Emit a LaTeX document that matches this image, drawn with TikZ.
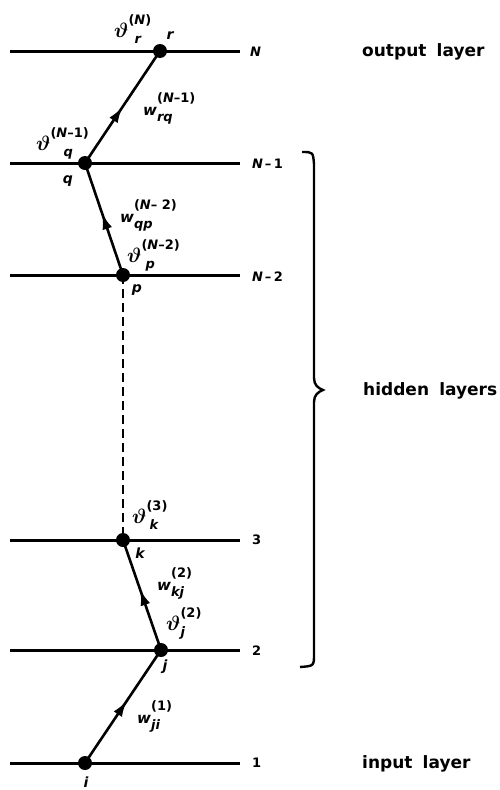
\documentclass[tikz,border=0pt]{standalone}
\usepackage{fontspec}
\usepackage{bm}
\setmainfont{DejaVu Sans}
\usetikzlibrary{decorations.markings,arrows.meta}
\newcommand\myscr{\fontsize{13}{13}\selectfont}
\newcommand\mytheta{{\fontsize{20}{20}\selectfont$\bm{\vartheta}$}}
% #1 symbol, #2 superscript, #3 subscript (may start with a shift)
\newcommand\mylbl[3]{{\itshape #1}\rlap{\raisebox{13pt}{\myscr #2}}\raisebox{-6pt}{\myscr\itshape #3}}
\begin{document}
\begin{tikzpicture}[x=1pt,y=-1pt,
  layerline/.style={line width=3pt},
  conn/.style={line width=2.6pt, postaction={decorate},
    decoration={markings, mark=at position #1 with {\arrow{Latex[length=16pt,width=10pt]}}}},
  conn/.default=0.55,
  dot/.style={circle, fill=black, inner sep=0pt, minimum size=14pt},
  sym/.style={anchor=base west, inner sep=0pt, font=\fontsize{15}{17}\selectfont\bfseries},
  idx/.style={inner sep=0pt, font=\fontsize{14}{16}\selectfont\bfseries\itshape},
  num/.style={anchor=west, inner sep=0pt, font=\fontsize{13}{15}\selectfont\bfseries},
  layername/.style={anchor=west, inner sep=0pt, font=\fontsize{17}{19}\selectfont\bfseries},
  bracepath/.style={line width=2.4pt}]
\useasboundingbox (0,0) rectangle (499,790);
% layer lines
\foreach \n/\y in {N/51, Nm1/163, Nm2/275, L3/540, L2/650, L1/763}{
  \coordinate (left\n) at (10,\y);
  \coordinate (right\n) at (240,\y);
  \draw[layerline] (left\n) -- (right\n);
}
% neurons
\node[dot] (r) at (160,51) {};
\node[dot] (q) at (85,163) {};
\node[dot] (p) at (123,275) {};
\node[dot] (k) at (123,540) {};
\node[dot] (j) at (161,650) {};
\node[dot] (i) at (85,763) {};
% connections
\draw[conn=0.5] (q.center) -- (r.center);
\draw[conn=0.55] (p.center) -- (q.center);
\draw[line width=2.6pt, dash pattern=on 9pt off 5pt] (p.center) -- (k.center);
\draw[conn=0.55] (j.center) -- (k.center);
\draw[conn=0.55] (i.center) -- (j.center);
% layer numbers
\node[num] (tN) at (250,52) {\itshape N};
\node[num] (tNm1) at (252,164) {\itshape N\,–\,\upshape 1};
\node[num] (tNm2) at (252,277) {\itshape N\,–\,\upshape 2};
\node[num] (t3) at (252,540) {3};
\node[num] (t2) at (252,651) {2};
\node[num] (t1) at (252,763) {1};
% neuron index labels
\node[idx] (lr) at (170,36) {r};
\node[idx] (lq) at (68,181) {q};
\node[idx] (lp) at (137,290) {p};
\node[idx] (lk) at (140,553) {k};
\node[idx] (lj) at (165,667) {j};
\node[idx] (li) at (86,782) {i};
% thresholds and weights
\node[sym] (thr) at (114,37) {\mylbl{\mytheta}{(\itshape N\upshape)}{\hspace{6pt}r}};
\node[sym] (wrq) at (143,115) {\mylbl{w}{(\itshape N\upshape–1)}{rq}};
\node[sym] (thq) at (36,150) {\mylbl{\mytheta}{(\itshape N\upshape–1)}{\hspace{13pt}q}};
\node[sym] (wqp) at (120,222) {\mylbl{w}{(\itshape N\upshape– 2)}{qp}};
\node[sym] (thp) at (127,262) {\mylbl{\mytheta}{(\itshape N\upshape–2)}{\hspace{4pt}p}};
\node[sym] (thk) at (132,523) {\mylbl{\mytheta}{(3)}{\hspace{3pt}k}};
\node[sym] (wkj) at (157,590) {\mylbl{w}{(2)}{kj}};
\node[sym] (thj) at (166,630) {\mylbl{\mytheta}{(2)}{j}};
\node[sym] (wji) at (137,723) {\mylbl{w}{(1)}{ji}};
% brace
\draw[bracepath] (302,152) .. controls (313,152) .. (314,164) -- (314,378)
  .. controls (314,385) and (318,388) .. (323,390)
  .. controls (318,392) and (314,395) .. (314,402) -- (314,654)
  .. controls (314,666) .. (300,667);
% layer names
\node[layername] (out) at (362,52) {output\hspace{0.6em}layer};
\node[layername] (hid) at (363,391) {hidden\hspace{0.6em}layers};
\node[layername] (inp) at (362,764) {input\hspace{0.6em}layer};
\end{tikzpicture}
\end{document}
